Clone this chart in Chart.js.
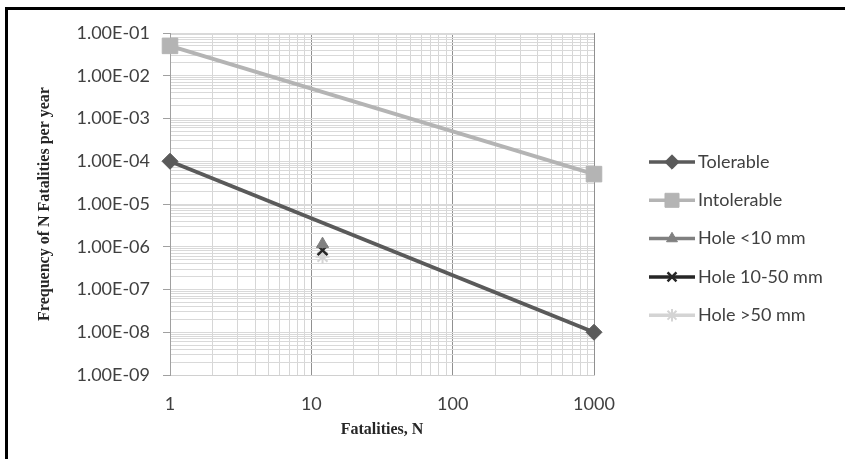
<!DOCTYPE html>
<html>
<head>
<meta charset="UTF-8">
<title>F-N curve</title>
<style>
  body { margin: 0; background: #fff; }
  #wrap { width: 845px; height: 459px; }
</style>
</head>
<body>
<div id="wrap"><canvas id="chart" width="845" height="459"></canvas></div>

<script src="https://cdn.jsdelivr.net/npm/chart.js@4.4.1/dist/chart.umd.min.js"></script>

<script>
// data
const fatalities = [1, 1000];
const tolerable = [1e-4, 1e-8];
const intolerable = [5e-2, 5e-5];

const holeN = [12];
const holeSmall = [1.15e-6];   // Hole <10 mm
const holeMedium = [8.3e-7];   // Hole 10-50 mm
const holeLarge = [5.8e-7];    // Hole >50 mm

const xTickLabels = [1, 10, 100, 1000];
const yTickLabels = [1e-9, 1e-8, 1e-7, 1e-6, 1e-5, 1e-4, 1e-3, 1e-2, 1e-1];

const toPoints = (xs, ys) => xs.map((x, i) => ({x: x, y: ys[i]}));

function isDecade(v) {
  const l = Math.log10(v);
  return Math.abs(l - Math.round(l)) < 1e-9;
}

// excel style 1.00E-05
function sci(v) {
  const e = Math.round(Math.log10(v));
  const m = v / Math.pow(10, e);
  const sign = e < 0 ? '-' : '+';
  return m.toFixed(2) + 'E' + sign + String(Math.abs(e)).padStart(2, '0');
}

// full set of 1..9 x 10^n positions for the grid
function logTicks(decades) {
  const out = [];
  for (let i = 0; i < decades.length; i++) {
    const d = decades[i];
    out.push({value: d, major: true});
    if (i < decades.length - 1) {
      for (let k = 2; k <= 9; k++) out.push({value: d * k, major: false});
    }
  }
  return out;
}

const labelFont = {family: 'Lato', size: 18};
const titleFont = {family: 'Liberation Serif', size: 16, weight: 'bold'};

const datasets = [{
    label: 'Tolerable',
    data: toPoints(fatalities, tolerable),
    borderColor: '#5a5a5a',
    backgroundColor: '#5a5a5a',
    borderWidth: 4,
    pointStyle: 'rectRot',
    pointRadius: 8,
    pointBorderWidth: 1,
    clip: false
  }, {
    label: 'Intolerable',
    data: toPoints(fatalities, intolerable),
    borderColor: '#b4b4b4',
    backgroundColor: '#b4b4b4',
    borderWidth: 4,
    pointStyle: 'rect',
    pointRadius: 11,
    pointBorderWidth: 1,
    clip: false
  }, {
    label: 'Hole <10 mm',
    data: toPoints(holeN, holeSmall),
    borderColor: '#808080',
    backgroundColor: '#808080',
    borderWidth: 3,
    showLine: false,
    pointStyle: 'triangle',
    pointRadius: 7,
    pointBorderWidth: 1,
    clip: false
  }, {
    label: 'Hole 10-50 mm',
    data: toPoints(holeN, holeMedium),
    borderColor: '#262626',
    backgroundColor: '#262626',
    borderWidth: 3,
    showLine: false,
    pointStyle: 'crossRot',
    pointRadius: 7,
    pointBorderWidth: 2.5,
    clip: false
  }, {
    label: 'Hole >50 mm',
    data: toPoints(holeN, holeLarge),
    borderColor: '#d4d4d4',
    backgroundColor: '#d4d4d4',
    borderWidth: 3,
    showLine: false,
    pointStyle: 'star',
    pointRadius: 7,
    pointBorderWidth: 2,
    clip: false
  }
];

// legend drawn like excel: short line with marker in the middle
const sideLegend = {
  id: 'sideLegend',
  afterDraw(chart) {
    const ctx = chart.ctx;
    const area = chart.chartArea;
    const x0 = area.right + 55, x1 = x0 + 46;
    ctx.save();
    chart.data.datasets.forEach((ds, i) => {
      const y = 162 + i * 38.3;
      ctx.strokeStyle = ds.borderColor;
      ctx.lineWidth = 3.5;
      ctx.beginPath();
      ctx.moveTo(x0, y);
      ctx.lineTo(x1, y);
      ctx.stroke();
      ctx.fillStyle = ds.backgroundColor;
      ctx.strokeStyle = ds.borderColor;
      ctx.lineWidth = ds.pointBorderWidth;
      Chart.helpers.drawPoint(ctx, {
        pointStyle: ds.pointStyle,
        radius: ds.pointRadius * 0.9,
        borderWidth: ds.pointBorderWidth,
        rotation: 0
      }, (x0 + x1) / 2, y);
      ctx.fillStyle = '#404040';
      ctx.font = labelFont.size + 'px ' + labelFont.family;
      ctx.textBaseline = 'middle';
      ctx.textAlign = 'left';
      ctx.fillText(ds.label, x1 + 3, y);
    });
    // outer frame (only top and left fall inside the picture)
    ctx.strokeStyle = '#000';
    ctx.lineWidth = 3;
    ctx.beginPath();
    ctx.moveTo(6.5, 470);
    ctx.lineTo(6.5, 8.5);
    ctx.lineTo(860, 8.5);
    ctx.stroke();
    ctx.restore();
  }
};

const chart = new Chart(document.getElementById('chart'), {
  type: 'line',
  data: {datasets: datasets},
  options: {
    responsive: false,
    animation: false,
    layout: {padding: {top: 33, right: 251, left: 0, bottom: 0}},
    plugins: {
      legend: {display: false},
      tooltip: {enabled: false}
    },
    scales: {
      x: {
        type: 'logarithmic',
        min: xTickLabels[0],
        max: xTickLabels[xTickLabels.length - 1],
        afterBuildTicks: s => { s.ticks = logTicks(xTickLabels); },
        afterFit: s => { s.height = 84; },
        border: {color: '#d0d0d0', width: 1},
        grid: {
          drawTicks: false,
          color: c => (c.tick && isDecade(c.tick.value)) ? '#909090' : '#d6d6d6',
          lineWidth: 1
        },
        ticks: {
          autoSkip: false,
          maxRotation: 0,
          padding: 18,
          color: '#404040',
          font: labelFont,
          callback: v => isDecade(v) ? String(Math.round(v)) : ''
        },
        title: {
          display: true,
          text: 'Fatalities, N',
          color: '#262626',
          font: titleFont,
          padding: {top: 0, bottom: 20}
        }
      },
      y: {
        type: 'logarithmic',
        min: yTickLabels[0],
        max: yTickLabels[yTickLabels.length - 1],
        afterBuildTicks: s => { s.ticks = logTicks(yTickLabels); },
        afterFit: s => { s.width = 170; },
        border: {color: '#a0a0a0', width: 1},
        grid: {
          tickLength: 7,
          color: '#d9d9d9',
          tickColor: c => (c.tick && isDecade(c.tick.value)) ? '#a0a0a0' : 'rgba(0,0,0,0)',
          lineWidth: 1
        },
        ticks: {
          autoSkip: false,
          padding: 13,
          color: '#404040',
          font: labelFont,
          callback: v => isDecade(v) ? sci(v) : ''
        },
        title: {
          display: true,
          text: 'Frequency of N Fatalities per year',
          color: '#262626',
          font: titleFont,
          padding: {top: 35, bottom: 0}
        }
      }
    }
  },
  plugins: [sideLegend]
});
</script>
</body>
</html>
